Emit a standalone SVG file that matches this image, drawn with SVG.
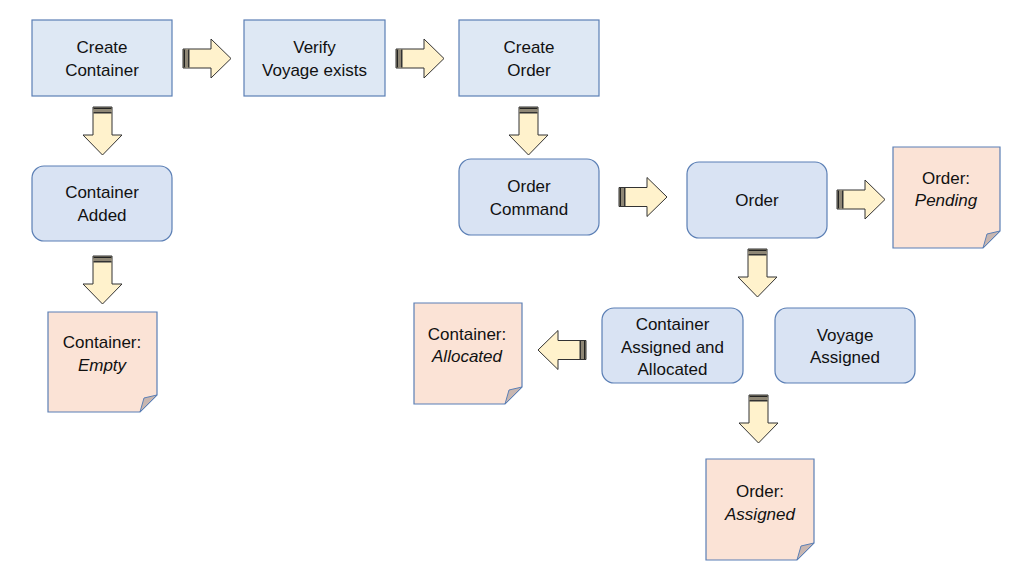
<svg xmlns="http://www.w3.org/2000/svg" xmlns:xlink="http://www.w3.org/1999/xlink" width="1024" height="576" viewBox="0 0 1024 576">
<style>
.box{fill:#dee8f4;stroke:#5b7fb5;stroke-width:1.2}
.rbox{fill:#d9e3f3;stroke:#5b7fb5;stroke-width:1.2}
.note{fill:#fbe3d6;stroke:#5b7fb5;stroke-width:1.2}
.fold{fill:#c8b6b0;stroke:#5b7fb5;stroke-width:1}
text{font-family:"Liberation Sans",Arial,sans-serif;font-size:17px;fill:#111;text-anchor:middle}
.it{font-style:italic}
.ab{fill:#fff2cc;stroke:#333;stroke-width:1}
</style>
<defs>
<g id="arr">
<path class="ab" d="M0,-9.5 H28 V-19.5 L48,0 L28,19.5 V9.5 H0 Z"/>
<rect x="0.5" y="-9" width="2" height="18" fill="#222"/>
<rect x="2.5" y="-9" width="2.5" height="18" fill="#8f8776"/>
<rect x="5" y="-9" width="1.5" height="18" fill="#333"/>
</g>
</defs>
<g id="connectors">
<use xlink:href="#arr" transform="translate(183,58.5)"/>
<use xlink:href="#arr" transform="translate(396,58.5)"/>
<use xlink:href="#arr" transform="translate(102.5,107) rotate(90)"/>
<use xlink:href="#arr" transform="translate(102.5,256) rotate(90)"/>
<use xlink:href="#arr" transform="translate(528.5,107) rotate(90)"/>
<use xlink:href="#arr" transform="translate(619,197)"/>
<use xlink:href="#arr" transform="translate(837,199.5)"/>
<use xlink:href="#arr" transform="translate(757.5,249) rotate(90)"/>
<use xlink:href="#arr" transform="translate(586,350) rotate(180)"/>
<use xlink:href="#arr" transform="translate(758.5,395) rotate(90)"/>
</g>
<g id="create-container">
<rect class="box" x="32" y="20" width="140" height="76"/>
<text x="102" y="53">Create</text><text x="102" y="76">Container</text>
</g>
<g id="verify-voyage">
<rect class="box" x="244" y="20" width="141" height="76"/>
<text x="314.5" y="53">Verify</text><text x="314.5" y="76">Voyage exists</text>
</g>
<g id="create-order">
<rect class="box" x="459" y="20" width="140" height="76"/>
<text x="529" y="53">Create</text><text x="529" y="76">Order</text>
</g>
<g id="container-added">
<rect class="rbox" x="32" y="166" width="140" height="75" rx="12"/>
<text x="102" y="198">Container</text><text x="102" y="221">Added</text>
</g>
<g id="container-empty">
<path class="note" d="M48,312 H157 V395 L140,412 H48 Z"/>
<path class="fold" d="M140,412 L144,398 L157,395 Z"/>
<text x="102" y="348">Container:</text><text x="102" y="371" class="it">Empty</text>
</g>
<g id="order-command">
<rect class="rbox" x="459" y="159" width="140" height="76" rx="12"/>
<text x="529" y="192">Order</text><text x="529" y="215">Command</text>
</g>
<g id="order">
<rect class="rbox" x="687" y="162" width="140" height="76" rx="12"/>
<text x="757" y="206">Order</text>
</g>
<g id="order-pending">
<path class="note" d="M893,147 H1000 V231 L983,248 H893 Z"/>
<path class="fold" d="M983,248 L987,234 L1000,231 Z"/>
<text x="946" y="184">Order:</text><text x="946" y="206" class="it">Pending</text>
</g>
<g id="container-allocated">
<path class="note" d="M414,303 H522 V387 L505,404 H414 Z"/>
<path class="fold" d="M505,404 L509,390 L522,387 Z"/>
<text x="467" y="340">Container:</text><text x="467" y="362" class="it">Allocated</text>
</g>
<g id="container-assigned-allocated">
<rect class="rbox" x="602" y="308" width="141" height="75" rx="12"/>
<text x="672.5" y="330">Container</text><text x="672.5" y="353">Assigned and</text><text x="672.5" y="375">Allocated</text>
</g>
<g id="voyage-assigned">
<rect class="rbox" x="775" y="308" width="140" height="75" rx="12"/>
<text x="845" y="341">Voyage</text><text x="845" y="363">Assigned</text>
</g>
<g id="order-assigned">
<path class="note" d="M706,459 H814 V543 L797,560 H706 Z"/>
<path class="fold" d="M797,560 L801,546 L814,543 Z"/>
<text x="760" y="497">Order:</text><text x="760" y="520" class="it">Assigned</text>
</g>
</svg>
